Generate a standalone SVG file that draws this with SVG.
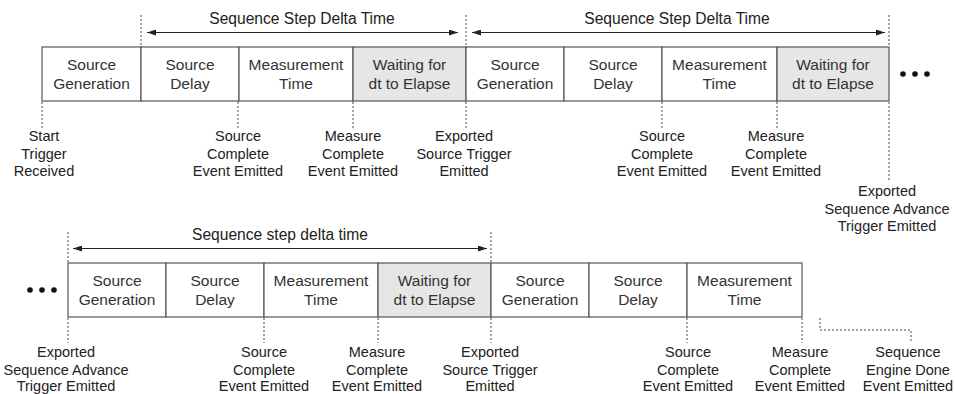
<svg xmlns="http://www.w3.org/2000/svg" width="955" height="394" viewBox="0 0 955 394">
<defs>
<marker id="ah" viewBox="0 0 9 6" refX="9" refY="3" markerWidth="9" markerHeight="6" markerUnits="userSpaceOnUse" orient="auto-start-reverse"><path d="M0,0 L9,3 L0,6 z" fill="#222"/></marker>
</defs>
<style>
.box{fill:#fff;stroke:#555;stroke-width:1.2}
.wait{fill:#e6e6e6;stroke:#555;stroke-width:1.2}
.bt{font-family:"Liberation Sans",Arial,sans-serif;font-size:15.5px;fill:#333;text-anchor:middle}
.lt{font-family:"Liberation Sans",Arial,sans-serif;font-size:14.5px;fill:#222;text-anchor:middle}
.ht{font-family:"Liberation Sans",Arial,sans-serif;font-size:15.6px;fill:#222;text-anchor:middle}
.dot{stroke:#444;stroke-width:1;stroke-dasharray:2,2;fill:none}
.arr{stroke:#222;stroke-width:1;fill:none;marker-start:url(#ah);marker-end:url(#ah)}
.el{fill:#111}
</style>
<rect width="955" height="394" fill="#fff"/>

<!-- Top row -->
<g id="t1"><rect class="box" x="42" y="47" width="99" height="54"/><text class="bt" x="91.5" y="70">Source</text><text class="bt" x="91.5" y="88.5">Generation</text></g>
<g id="t2"><rect class="box" x="141" y="47" width="98" height="54"/><text class="bt" x="190" y="70">Source</text><text class="bt" x="190" y="88.5">Delay</text></g>
<g id="t3"><rect class="box" x="239" y="47" width="114" height="54"/><text class="bt" x="296" y="70">Measurement</text><text class="bt" x="296" y="88.5">Time</text></g>
<g id="t4"><rect class="wait" x="353" y="47" width="113" height="54"/><text class="bt" x="409.5" y="70">Waiting for</text><text class="bt" x="409.5" y="88.5">dt to Elapse</text></g>
<g id="t5"><rect class="box" x="466" y="47" width="98" height="54"/><text class="bt" x="515" y="70">Source</text><text class="bt" x="515" y="88.5">Generation</text></g>
<g id="t6"><rect class="box" x="564" y="47" width="98" height="54"/><text class="bt" x="613" y="70">Source</text><text class="bt" x="613" y="88.5">Delay</text></g>
<g id="t7"><rect class="box" x="662" y="47" width="115" height="54"/><text class="bt" x="719.5" y="70">Measurement</text><text class="bt" x="719.5" y="88.5">Time</text></g>
<g id="t8"><rect class="wait" x="777" y="47" width="112" height="54"/><text class="bt" x="833" y="70">Waiting for</text><text class="bt" x="833" y="88.5">dt to Elapse</text></g>
<g id="tdots"><circle class="el" cx="903" cy="74" r="2.8"/><circle class="el" cx="915" cy="74" r="2.8"/><circle class="el" cx="927" cy="74" r="2.8"/></g>

<!-- Bottom row -->
<g id="bdots"><circle class="el" cx="30" cy="290" r="2.8"/><circle class="el" cx="42" cy="290" r="2.8"/><circle class="el" cx="54" cy="290" r="2.8"/></g>
<g id="b1"><rect class="box" x="68" y="263" width="98" height="54"/><text class="bt" x="117" y="286">Source</text><text class="bt" x="117" y="304.5">Generation</text></g>
<g id="b2"><rect class="box" x="166" y="263" width="98" height="54"/><text class="bt" x="215" y="286">Source</text><text class="bt" x="215" y="304.5">Delay</text></g>
<g id="b3"><rect class="box" x="264" y="263" width="114" height="54"/><text class="bt" x="321" y="286">Measurement</text><text class="bt" x="321" y="304.5">Time</text></g>
<g id="b4"><rect class="wait" x="378" y="263" width="113" height="54"/><text class="bt" x="434.5" y="286">Waiting for</text><text class="bt" x="434.5" y="304.5">dt to Elapse</text></g>
<g id="b5"><rect class="box" x="491" y="263" width="98" height="54"/><text class="bt" x="540" y="286">Source</text><text class="bt" x="540" y="304.5">Generation</text></g>
<g id="b6"><rect class="box" x="589" y="263" width="98" height="54"/><text class="bt" x="638" y="286">Source</text><text class="bt" x="638" y="304.5">Delay</text></g>
<g id="b7"><rect class="box" x="687" y="263" width="115" height="54"/><text class="bt" x="744.5" y="286">Measurement</text><text class="bt" x="744.5" y="304.5">Time</text></g>

<!-- Connectors -->
<g id="connectors">
<line class="dot" x1="141" y1="15" x2="141" y2="47"/>
<line class="dot" x1="466" y1="15" x2="466" y2="47"/>
<line class="dot" x1="889" y1="15" x2="889" y2="47"/>
<line class="arr" x1="147" y1="32.5" x2="458" y2="32.5"/>
<line class="arr" x1="472" y1="32.5" x2="885" y2="32.5"/>
<line class="dot" x1="42" y1="102" x2="42" y2="128"/>
<line class="dot" x1="238" y1="102" x2="238" y2="128"/>
<line class="dot" x1="353" y1="102" x2="353" y2="128"/>
<line class="dot" x1="466" y1="102" x2="466" y2="128"/>
<line class="dot" x1="662" y1="102" x2="662" y2="128"/>
<line class="dot" x1="777" y1="102" x2="777" y2="128"/>
<line class="dot" x1="889" y1="102" x2="889" y2="180"/>

<line class="dot" x1="68" y1="232" x2="68" y2="263"/>
<line class="dot" x1="491" y1="232" x2="491" y2="263"/>
<line class="arr" x1="73" y1="248.5" x2="487" y2="248.5"/>
<line class="dot" x1="68" y1="318" x2="68" y2="343"/>
<line class="dot" x1="264" y1="318" x2="264" y2="343"/>
<line class="dot" x1="378" y1="318" x2="378" y2="343"/>
<line class="dot" x1="491" y1="318" x2="491" y2="343"/>
<line class="dot" x1="687" y1="318" x2="687" y2="343"/>
<line class="dot" x1="802" y1="318" x2="802" y2="343"/>
<polyline class="dot" points="820,318 820,330 911,330 911,342"/>
</g>

<!-- Headings -->
<g id="h1"><text class="ht" x="302" y="24">Sequence Step Delta Time</text></g>
<g id="h2"><text class="ht" x="677" y="24">Sequence Step Delta Time</text></g>
<g id="h3"><text class="ht" x="280" y="240">Sequence step delta time</text></g>

<!-- Event labels top -->
<g id="l1"><text class="lt" x="44" y="141">Start</text><text class="lt" x="44" y="158.5">Trigger</text><text class="lt" x="44" y="176">Received</text></g>
<g id="l2"><text class="lt" x="238" y="141">Source</text><text class="lt" x="238" y="158.5">Complete</text><text class="lt" x="238" y="176">Event Emitted</text></g>
<g id="l3"><text class="lt" x="353" y="141">Measure</text><text class="lt" x="353" y="158.5">Complete</text><text class="lt" x="353" y="176">Event Emitted</text></g>
<g id="l4"><text class="lt" x="464" y="141">Exported</text><text class="lt" x="464" y="158.5">Source Trigger</text><text class="lt" x="464" y="176">Emitted</text></g>
<g id="l5"><text class="lt" x="662" y="141">Source</text><text class="lt" x="662" y="158.5">Complete</text><text class="lt" x="662" y="176">Event Emitted</text></g>
<g id="l6"><text class="lt" x="776" y="141">Measure</text><text class="lt" x="776" y="158.5">Complete</text><text class="lt" x="776" y="176">Event Emitted</text></g>
<g id="l7"><text class="lt" x="887" y="196">Exported</text><text class="lt" x="887" y="213.5">Sequence Advance</text><text class="lt" x="887" y="231">Trigger Emitted</text></g>

<!-- Event labels bottom -->
<g id="m1"><text class="lt" x="66" y="357">Exported</text><text class="lt" x="66" y="374.5">Sequence Advance</text><text class="lt" x="66" y="391">Trigger Emitted</text></g>
<g id="m2"><text class="lt" x="264" y="357">Source</text><text class="lt" x="264" y="374.5">Complete</text><text class="lt" x="264" y="391">Event Emitted</text></g>
<g id="m3"><text class="lt" x="377" y="357">Measure</text><text class="lt" x="377" y="374.5">Complete</text><text class="lt" x="377" y="391">Event Emitted</text></g>
<g id="m4"><text class="lt" x="490" y="357">Exported</text><text class="lt" x="490" y="374.5">Source Trigger</text><text class="lt" x="490" y="391">Emitted</text></g>
<g id="m5"><text class="lt" x="688" y="357">Source</text><text class="lt" x="688" y="374.5">Complete</text><text class="lt" x="688" y="391">Event Emitted</text></g>
<g id="m6"><text class="lt" x="800" y="357">Measure</text><text class="lt" x="800" y="374.5">Complete</text><text class="lt" x="800" y="391">Event Emitted</text></g>
<g id="m7"><text class="lt" x="908" y="357">Sequence</text><text class="lt" x="908" y="374.5">Engine Done</text><text class="lt" x="908" y="391">Event Emitted</text></g>
</svg>
